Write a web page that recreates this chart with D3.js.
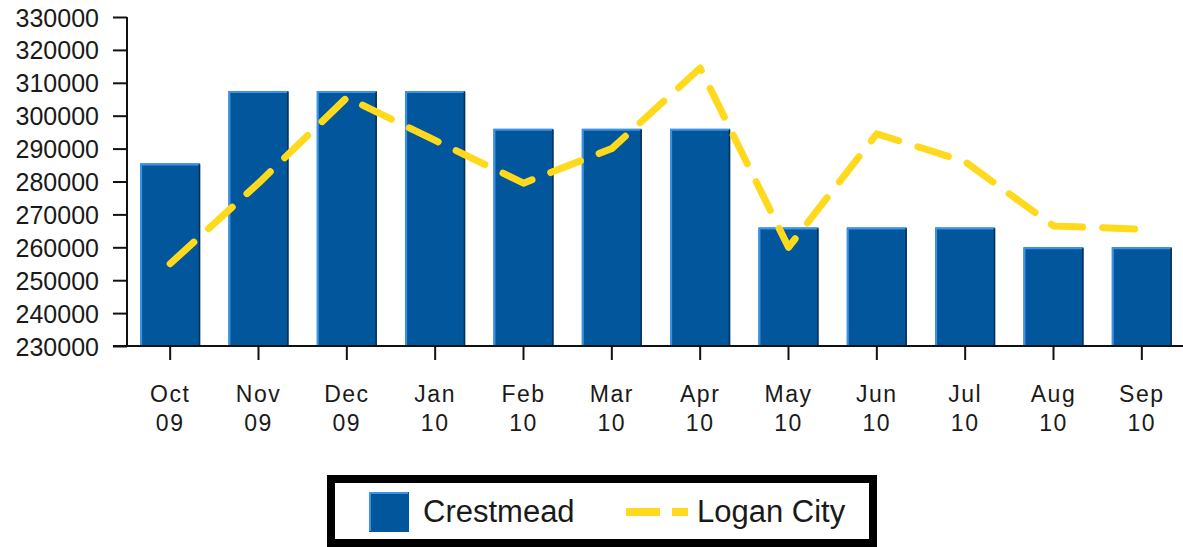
<!DOCTYPE html>
<html>
<head>
<meta charset="utf-8">
<script src="https://cdn.jsdelivr.net/npm/d3@7"></script>
<style>
  body { margin: 0; background: #fff; }
  svg { display: block; font-family: "Liberation Sans", Arial, sans-serif; }
</style>
</head>
<body>
<svg id="chart" width="1183" height="547"></svg>
<script>
// chart data
const months = ["Oct 09", "Nov 09", "Dec 09", "Jan 10", "Feb 10", "Mar 10", "Apr 10", "May 10", "Jun 10", "Jul 10", "Aug 10", "Sep 10"];
const crestmead = [285500, 307500, 307500, 307500, 296000, 296000, 296000, 266000, 266000, 266000, 260000, 260000];
const loganCity = [255000, 279500, 305500, 292500, 279500, 290000, 314500, 260000, 294500, 286000, 266500, 265500];
const yTicks = [230000, 240000, 250000, 260000, 270000, 280000, 290000, 300000, 310000, 320000, 330000];

const svg = d3.select("#chart");
const barColor = "#02569b";
const lineColor = "#ffd91c";

const x = d3.scaleBand().domain(months).range([126, 1186]).paddingInner(0.32).paddingOuter(0.16);
const y = d3.scaleLinear().domain([230000, 330000]).range([346, 17]);

// bars
const bars = svg.append("g");
months.forEach((m, i) => {
  const x0 = x(m), w = x.bandwidth(), top = y(crestmead[i]), base = y(230000);
  bars.append("rect").attr("x", x0).attr("y", top).attr("width", w).attr("height", base - top).attr("fill", barColor);
  bars.append("path").attr("d", `M${x0 + 1},${base} V${top + 1} H${x0 + w - 1}`)
    .attr("fill", "none").attr("stroke", "#3a93e6").attr("stroke-width", 2);
  bars.append("path").attr("d", `M${x0 + w - 0.75},${top + 1} V${base}`)
    .attr("fill", "none").attr("stroke", "#0b3056").attr("stroke-width", 1.5);
});

// Logan City line
const line = d3.line().x((d, i) => x(months[i]) + x.bandwidth() / 2).y(d => y(d));
svg.append("path").datum(loganCity).attr("d", line)
  .attr("fill", "none").attr("stroke", lineColor).attr("stroke-width", 7)
  .attr("stroke-linecap", "round").attr("stroke-linejoin", "round")
  .attr("stroke-dasharray", "32,20");

// y axis
const yAxis = svg.append("g").attr("transform", "translate(127,0)")
  .call(d3.axisLeft(y).tickValues(yTicks).tickFormat(d3.format("d")).tickSize(14).tickPadding(14));
yAxis.select(".domain").remove();
yAxis.selectAll("line").attr("stroke", "#111").attr("stroke-width", 2);
yAxis.selectAll("text").attr("fill", "#1a1a1a").style("font-size", "25px").attr("dy", "0.36em");

// x axis
const xAxis = svg.append("g").attr("transform", "translate(0,346)")
  .call(d3.axisBottom(x).tickSize(14).tickFormat(""));
xAxis.select(".domain").remove();
xAxis.selectAll("line").attr("stroke", "#111").attr("stroke-width", 2);
xAxis.selectAll(".tick").each(function(d) {
  const parts = d.split(" ");
  const t = d3.select(this).append("text").attr("fill", "#1a1a1a")
    .attr("text-anchor", "middle").style("font-size", "23px").style("letter-spacing", "1.5px");
  t.append("tspan").attr("x", 0).attr("y", 56).text(parts[0]);
  t.append("tspan").attr("x", 0).attr("y", 85).text(parts[1]);
});

// axis lines
svg.append("line").attr("x1", 127).attr("x2", 127).attr("y1", 17).attr("y2", 346)
  .attr("stroke", "#111").attr("stroke-width", 2);
svg.append("line").attr("x1", 113).attr("x2", 1183).attr("y1", 346).attr("y2", 346)
  .attr("stroke", "#111").attr("stroke-width", 2);

// legend
const legend = svg.append("g");
legend.append("rect").attr("x", 331).attr("y", 479).attr("width", 542).attr("height", 64)
  .attr("fill", "#fff").attr("stroke", "#000").attr("stroke-width", 8);
legend.append("rect").attr("x", 369).attr("y", 492).attr("width", 40).attr("height", 40).attr("fill", barColor);
legend.append("path").attr("d", "M370,531 V493 H408").attr("fill", "none").attr("stroke", "#3a93e6").attr("stroke-width", 2);
legend.append("text").attr("x", 423).attr("y", 522).style("font-size", "31px").attr("fill", "#1a1a1a").text("Crestmead");
legend.append("line").attr("x1", 626).attr("x2", 688).attr("y1", 512).attr("y2", 512)
  .attr("stroke", lineColor).attr("stroke-width", 8).attr("stroke-dasharray", "34,12");
legend.append("text").attr("x", 697).attr("y", 522).style("font-size", "31px").attr("fill", "#1a1a1a").text("Logan City");
</script>
</body>
</html>
